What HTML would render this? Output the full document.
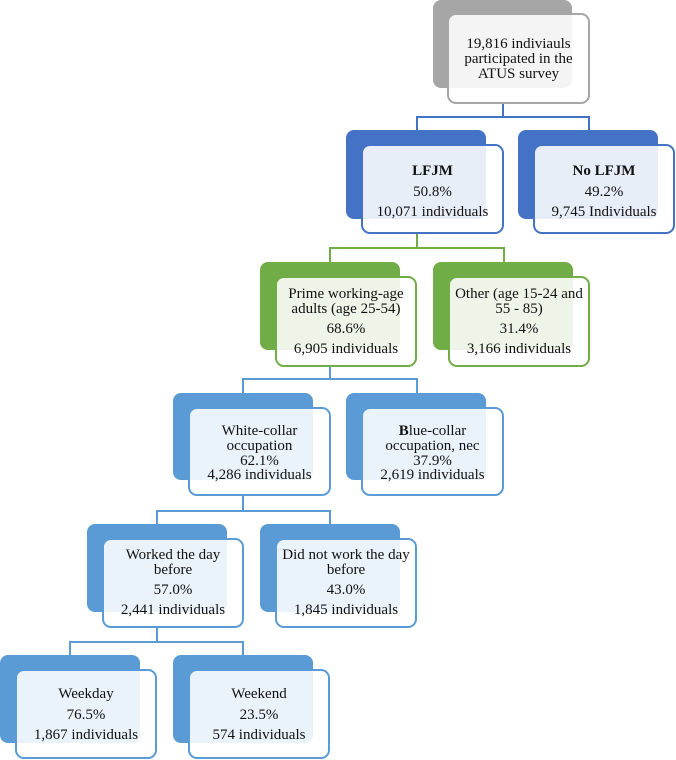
<!DOCTYPE html>
<html><head><meta charset="utf-8"><style>
body{margin:0;width:676px;height:760px;background:#fff;position:relative;overflow:hidden;font-family:"Liberation Serif",serif;color:#111}
.b{position:absolute;border-radius:8px}
.f{position:absolute;border-radius:9px;background:rgba(255,255,255,0.88);border:2px solid;box-sizing:border-box;display:flex;flex-direction:column;justify-content:center;align-items:center;text-align:center;font-size:15px}
.l{position:absolute;background:#5b9bd5}
.gray{background:#a6a6a6}.db{background:#4472c4}.gr{background:#70ad47}.lb{background:#5b9bd5}
</style></head><body>
<div class="l" style="left:502px;top:103px;width:2px;height:15px;background:#4472c4"></div>
<div class="l" style="left:416px;top:116px;width:174px;height:2px;background:#4472c4"></div>
<div class="l" style="left:416px;top:116px;width:2px;height:16px;background:#4472c4"></div>
<div class="l" style="left:588px;top:116px;width:2px;height:16px;background:#4472c4"></div>

<div class="l" style="left:416px;top:233px;width:2px;height:15px;background:#70ad47"></div>
<div class="l" style="left:329px;top:247px;width:176px;height:2px;background:#70ad47"></div>
<div class="l" style="left:329px;top:247px;width:2px;height:16px;background:#70ad47"></div>
<div class="l" style="left:503px;top:247px;width:2px;height:16px;background:#70ad47"></div>

<div class="l" style="left:329px;top:366px;width:2px;height:13px"></div>
<div class="l" style="left:242px;top:378px;width:176px;height:2px"></div>
<div class="l" style="left:242px;top:378px;width:2px;height:16px"></div>
<div class="l" style="left:416px;top:378px;width:2px;height:16px"></div>

<div class="l" style="left:242px;top:495px;width:2px;height:16px"></div>
<div class="l" style="left:156px;top:510px;width:175px;height:2px"></div>
<div class="l" style="left:156px;top:510px;width:2px;height:14px"></div>
<div class="l" style="left:329px;top:510px;width:2px;height:14px"></div>

<div class="l" style="left:156px;top:627px;width:2px;height:15px"></div>
<div class="l" style="left:69px;top:641px;width:175px;height:2px"></div>
<div class="l" style="left:69px;top:641px;width:2px;height:14px"></div>
<div class="l" style="left:242px;top:641px;width:2px;height:14px"></div>

<div class="b gray" style="left:433px;top:0;width:139px;height:88px"></div>
<div class="f" style="left:447px;top:13px;width:143px;height:91px;border-color:#a6a6a6;line-height:15px;padding-top:2px">19,816 indiviauls<br>participated in the<br>ATUS survey</div>

<div class="b db" style="left:346px;top:130px;width:140px;height:89px"></div>
<div class="f" style="left:361px;top:144px;width:143px;height:90px;border-color:#4472c4;line-height:20.5px;padding-top:6px"><b>LFJM</b>50.8%<br>10,071 individuals</div>
<div class="b db" style="left:518px;top:130px;width:140px;height:89px"></div>
<div class="f" style="left:533px;top:144px;width:142px;height:90px;border-color:#4472c4;line-height:20.5px;padding-top:6px"><b>No LFJM</b>49.2%<br>9,745 Individuals</div>

<div class="b gr" style="left:260px;top:262px;width:140px;height:88px"></div>
<div class="f" style="left:275px;top:276px;width:142px;height:91px;border-color:#70ad47;line-height:20px;padding-top:2px"><div style="line-height:15px">Prime working-age<br>adults (age 25-54)</div><div style="margin-top:2px">68.6%</div><div>6,905 individuals</div></div>
<div class="b gr" style="left:433px;top:262px;width:140px;height:88px"></div>
<div class="f" style="left:448px;top:276px;width:142px;height:91px;border-color:#70ad47;line-height:20px;padding-top:2px"><div style="line-height:15px">Other (age 15-24 and<br>55 - 85)</div><div style="margin-top:2px">31.4%</div><div>3,166 individuals</div></div>

<div class="b lb" style="left:173px;top:393px;width:140px;height:87px"></div>
<div class="f" style="left:188px;top:407px;width:143px;height:89px;border-color:#5b9bd5;line-height:14.8px;padding-top:4px">White-collar<br>occupation<br>62.1%<br>4,286 individuals</div>
<div class="b lb" style="left:346px;top:393px;width:140px;height:87px"></div>
<div class="f" style="left:361px;top:407px;width:143px;height:89px;border-color:#5b9bd5;line-height:14.8px;padding-top:4px"><span><b>B</b>lue-collar</span>occupation, nec<br>37.9%<br>2,619 individuals</div>

<div class="b lb" style="left:87px;top:524px;width:140px;height:88px"></div>
<div class="f" style="left:102px;top:538px;width:142px;height:90px;border-color:#5b9bd5;line-height:20px;padding-top:2px"><div style="line-height:15px">Worked the day<br>before</div><div style="margin-top:2px">57.0%</div><div>2,441 individuals</div></div>
<div class="b lb" style="left:260px;top:524px;width:140px;height:88px"></div>
<div class="f" style="left:275px;top:538px;width:142px;height:90px;border-color:#5b9bd5;line-height:20px;padding-top:2px"><div style="line-height:15px">Did not work the day<br>before</div><div style="margin-top:2px">43.0%</div><div>1,845 individuals</div></div>

<div class="b lb" style="left:0;top:655px;width:140px;height:88px"></div>
<div class="f" style="left:15px;top:669px;width:142px;height:90px;border-color:#5b9bd5;line-height:20.5px;padding-top:2px">Weekday<br>76.5%<br>1,867 individuals</div>
<div class="b lb" style="left:173px;top:655px;width:140px;height:88px"></div>
<div class="f" style="left:188px;top:669px;width:142px;height:90px;border-color:#5b9bd5;line-height:20.5px;padding-top:2px">Weekend<br>23.5%<br>574 individuals</div>
</body></html>
